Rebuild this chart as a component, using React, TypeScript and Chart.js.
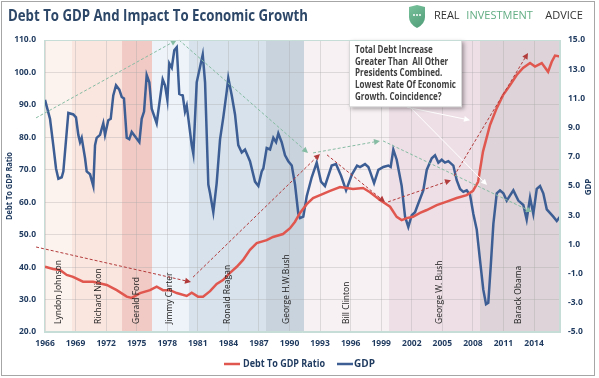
import { useEffect, useRef } from 'react';
import { Chart, registerables } from 'chart.js';

Chart.register(...registerables);

// ---------- data ----------
const xTickYears = [1966, 1969, 1972, 1975, 1978, 1981, 1984, 1987, 1990, 1993, 1996, 1999, 2002, 2005, 2008, 2011, 2014];

const debtYears = [
  1966.00, 1966.79, 1967.47, 1968.13, 1968.75, 1969.73, 1970.71, 1972.06, 1973.04, 1974.02,
  1974.51, 1975.33, 1976.31, 1976.96, 1977.58, 1978.27, 1978.93, 1979.91, 1980.40, 1981.02,
  1981.51, 1982.20, 1982.85, 1983.47, 1984.16, 1984.82, 1985.44, 1986.12, 1986.78, 1987.76,
  1988.38, 1989.36, 1990.05, 1990.54, 1991.03, 1991.69, 1992.31, 1993.00, 1993.98, 1994.96,
  1996.23, 1997.22, 1997.90, 1998.88, 1999.87, 2000.52, 2001.01, 2001.50, 2002.12, 2002.81,
  2003.47, 2004.45, 2005.43, 2006.41, 2007.39, 2008.01, 2008.51, 2008.99, 2009.68, 2010.34,
  2010.96, 2011.65, 2012.30, 2012.92, 2013.61, 2014.10, 2014.76, 2015.38, 2015.74, 2016.06,
  2016.55,
];
const debtValues = [
  40.1, 39.4, 39.1, 37.6, 37.0, 35.5, 35.5, 34.5, 32.9, 30.9,
  30.5, 32.0, 32.9, 34.0, 32.9, 32.9, 32.0, 31.1, 32.1, 30.9,
  30.9, 32.6, 34.8, 36.0, 38.2, 40.1, 42.2, 45.3, 47.4, 48.3,
  49.3, 50.2, 52.0, 54.0, 56.7, 59.4, 61.3, 62.2, 63.5, 64.7,
  64.1, 64.4, 63.1, 60.7, 58.6, 55.5, 54.5, 55.1, 55.5, 56.7,
  57.6, 59.1, 60.2, 61.3, 62.2, 63.5, 66.3, 75.6, 83.8, 89.0,
  93.0, 96.1, 99.2, 101.4, 102.9, 101.8, 102.9, 100.2, 103.3, 105.2,
  104.9,
];

const gdpYears = [
  1966.00, 1966.49, 1966.81, 1967.08, 1967.31, 1967.64, 1967.80, 1968.13, 1968.29, 1968.78,
  1969.04, 1969.27, 1969.44, 1969.60, 1969.93, 1970.09, 1970.42, 1970.74, 1970.91, 1971.07,
  1971.40, 1971.72, 1971.89, 1972.21, 1972.45, 1972.70, 1972.97, 1973.29, 1973.53, 1973.75,
  1974.02, 1974.27, 1974.51, 1974.83, 1975.26, 1975.49, 1975.72, 1975.98, 1976.24, 1976.47,
  1976.96, 1977.29, 1977.55, 1977.78, 1978.01, 1978.20, 1978.44, 1978.69, 1978.93, 1979.18,
  1979.52, 1979.74, 1979.91, 1980.40, 1980.56, 1980.89, 1981.48, 1981.71, 1982.03, 1982.20,
  1982.52, 1982.85, 1983.18, 1983.50, 1983.84, 1983.99, 1984.33, 1984.65, 1984.97, 1985.31,
  1985.63, 1986.12, 1986.61, 1986.94, 1987.27, 1987.43, 1987.76, 1988.09, 1988.41, 1988.68,
  1988.90, 1989.23, 1989.56, 1989.88, 1990.22, 1990.54, 1990.86, 1991.03, 1991.35, 1991.69,
  1992.18, 1992.67, 1993.09, 1993.48, 1994.14, 1994.56, 1995.06, 1995.55, 1996.13, 1996.63,
  1996.92, 1997.41, 1997.74, 1997.90, 1998.30, 1998.72, 1999.21, 1999.70, 1999.93, 2000.19,
  2000.52, 2001.01, 2001.34, 2001.66, 2002.00, 2002.32, 2002.64, 2003.13, 2003.47, 2003.96,
  2004.28, 2004.61, 2004.94, 2005.26, 2005.59, 2006.08, 2006.41, 2006.74, 2007.06, 2007.39,
  2007.72, 2008.04, 2008.38, 2008.70, 2009.02, 2009.29, 2009.51, 2009.75, 2010.01, 2010.34,
  2010.66, 2010.99, 2011.32, 2011.97, 2012.46, 2012.95, 2013.28, 2013.61, 2013.93, 2014.27,
  2014.59, 2014.91, 2015.25, 2015.89, 2016.23, 2016.55,
];
const gdpValues = [
  10.9, 9.6, 7.8, 6.2, 5.5, 5.6, 6.0, 8.7, 10.0, 9.9,
  9.7, 8.5, 8.0, 8.3, 6.9, 6.0, 5.8, 5.0, 7.8, 8.3,
  8.5, 9.3, 8.5, 9.5, 9.6, 11.2, 11.9, 11.6, 11.1, 11.0,
  8.3, 8.2, 8.7, 8.4, 8.0, 9.6, 10.1, 12.6, 12.1, 10.3,
  9.3, 11.0, 12.3, 11.9, 10.9, 13.4, 13.1, 14.3, 14.5, 11.3,
  11.2, 10.1, 10.5, 7.8, 7.2, 12.1, 14.0, 12.1, 5.1, 4.5,
  3.2, 5.2, 8.2, 9.7, 11.5, 12.4, 11.2, 9.9, 7.8, 7.3,
  7.5, 6.7, 5.3, 5.0, 6.0, 6.2, 7.6, 7.5, 8.3, 8.0,
  8.6, 8.0, 7.1, 6.7, 6.4, 5.1, 3.1, 2.8, 2.9, 4.3,
  5.6, 6.6, 5.3, 5.0, 6.4, 6.5, 5.7, 4.7, 5.8, 6.4,
  6.3, 6.5, 6.3, 6.0, 5.2, 6.1, 6.3, 6.4, 6.3, 7.5,
  6.8, 5.0, 2.9, 2.2, 3.0, 3.2, 3.8, 4.7, 6.1, 6.9,
  7.1, 6.6, 6.8, 6.6, 6.7, 6.4, 5.4, 4.8, 4.6, 4.7,
  4.4, 3.1, 2.0, -0.1, -2.1, -3.1, -3.0, -0.5, 2.4, 4.5,
  4.7, 4.5, 4.0, 4.7, 4.0, 3.7, 2.7, 4.2, 3.1, 4.8,
  5.0, 4.5, 3.4, 2.9, 2.6, 2.9,
];

const presidents = ['Lyndon Johnson', 'Richard Nixon', 'Gerald Ford', 'Jimmy Carter', 'Ronald Reagan', 'George H.W.Bush', 'Bill Clinton', 'George W. Bush', 'Barack Obama'];
const termStart = [1965.9, 1968.65, 1973.56, 1976.5, 1980.13, 1987.69, 1991.42, 1999.77, 2008.7];
const termEnd = [1968.65, 1973.56, 1976.5, 1980.13, 1987.69, 1991.42, 1999.77, 2008.7, 2016.55];
const presLabelYears = [1967.37, 1971.23, 1975.0, 1978.27, 1983.96, 1989.73, 1995.62, 2004.77, 2012.53];
const bandColors = ['#fdf3ee', '#fbe5df', '#f2cac5', '#eef3f9', '#d7e2ec', '#c9d3dd', '#f8f1f4', '#eedfe6', '#ddd3d8'];

// arrows in (year, left-axis value)
const arrowFrom = [[1965.12, 86.0], [1979.15, 110.0], [1992.31, 75.2], [1999.18, 78.9], [1965.12, 46.2], [1980.53, 36.9], [1993.68, 74.6], [1999.67, 60.1], [2006.15, 68.1], [2001.53, 89.3], [2001.83, 89.3]];
const arrowTo = [[1978.93, 110.0], [1991.82, 75.2], [1998.88, 78.9], [2013.8, 57.0], [1980.33, 35.4], [1992.99, 74.9], [1999.37, 60.1], [2005.85, 66.8], [2013.41, 106.0], [2007.72, 85.3], [2009.39, 65.3]];
const arrowKind = ['green', 'green', 'green', 'green', 'red', 'red', 'red', 'red', 'red', 'white', 'white'];

const noteLines = ['Total Debt Increase', 'Greater Than  All Other', 'Presidents Combined.', 'Lowest Rate Of Economic', 'Growth. Coincidence?'];
const noteBox = { x0: 1995.84, x1: 2006.93, yTop: 110, yBottom: 89.3 };

const TITLE = 'Debt To GDP And Impact To Economic Growth';
const NAVY = '#1f3a5f';
const FONT = '"Open Sans", "Liberation Sans", sans-serif';

function drawArrow(ctx: CanvasRenderingContext2D, x0: number, y0: number, x1: number, y1: number, kind: string) {
  const color = kind === 'green' ? '#86bca3' : kind === 'red' ? '#b23b3b' : '#ffffff';
  ctx.save();
  ctx.strokeStyle = color;
  ctx.fillStyle = color;
  ctx.lineWidth = 1;
  if (kind !== 'white') ctx.setLineDash([3, 2]);
  const ang = Math.atan2(y1 - y0, x1 - x0);
  const L = 6, W = 3;
  const bx = x1 - L * Math.cos(ang), by = y1 - L * Math.sin(ang);
  ctx.beginPath();
  ctx.moveTo(x0, y0);
  ctx.lineTo(bx, by);
  ctx.stroke();
  ctx.setLineDash([]);
  ctx.beginPath();
  ctx.moveTo(x1, y1);
  ctx.lineTo(bx + W * Math.sin(ang), by - W * Math.cos(ang));
  ctx.lineTo(bx - W * Math.sin(ang), by + W * Math.cos(ang));
  ctx.closePath();
  ctx.fill();
  ctx.restore();
}

const decor = {
  id: 'decor',
  beforeDraw(chart: any) {
    const { ctx, chartArea: a, scales } = chart;
    const x = scales.x;
    ctx.save();
    ctx.fillStyle = '#ffffff';
    ctx.fillRect(0, 0, chart.width, chart.height);
    for (let i = 0; i < termStart.length; i++) {
      const x0 = Math.max(a.left, x.getPixelForValue(termStart[i]));
      const x1 = Math.min(a.right, x.getPixelForValue(termEnd[i]));
      ctx.fillStyle = bandColors[i];
      ctx.fillRect(x0, a.top, x1 - x0, a.bottom - a.top);
    }
    ctx.restore();
  },
  afterDatasetsDraw(chart: any) {
    const { ctx, chartArea: a, scales } = chart;
    const x = scales.x, y = scales.y;
    ctx.save();
    // president labels
    ctx.font = `8.5px ${FONT}`;
    ctx.fillStyle = '#222222';
    ctx.textAlign = 'left';
    ctx.textBaseline = 'middle';
    for (let i = 0; i < presidents.length; i++) {
      ctx.save();
      ctx.translate(x.getPixelForValue(presLabelYears[i]), a.bottom - 8);
      ctx.rotate(-Math.PI / 2);
      ctx.fillText(presidents[i], 0, 0);
      ctx.restore();
    }
    // arrows
    for (let i = 0; i < arrowFrom.length; i++) {
      drawArrow(ctx,
        x.getPixelForValue(arrowFrom[i][0]), y.getPixelForValue(arrowFrom[i][1]),
        x.getPixelForValue(arrowTo[i][0]), y.getPixelForValue(arrowTo[i][1]), arrowKind[i]);
    }
    // note box
    const bx0 = x.getPixelForValue(noteBox.x0), bx1 = x.getPixelForValue(noteBox.x1);
    const by0 = y.getPixelForValue(noteBox.yTop), by1 = y.getPixelForValue(noteBox.yBottom);
    ctx.save();
    ctx.shadowColor = 'rgba(0,0,0,0.35)';
    ctx.shadowBlur = 4;
    ctx.shadowOffsetX = 2;
    ctx.shadowOffsetY = 2;
    ctx.fillStyle = '#ffffff';
    ctx.fillRect(bx0, by0, bx1 - bx0, by1 - by0);
    ctx.restore();
    ctx.strokeStyle = '#d9d9d9';
    ctx.lineWidth = 1;
    ctx.strokeRect(bx0 + 0.5, by0 + 0.5, bx1 - bx0 - 1, by1 - by0 - 1);
    ctx.font = `bold 10px ${FONT}`;
    ctx.fillStyle = '#404040';
    ctx.textAlign = 'left';
    ctx.textBaseline = 'middle';
    let maxW = 0;
    noteLines.forEach((l) => { maxW = Math.max(maxW, ctx.measureText(l).width); });
    const k = (bx1 - bx0 - 12) / maxW;
    const lh = (by1 - by0 - 20) / (noteLines.length - 1);
    noteLines.forEach((l, i) => {
      ctx.fillText(l, bx0 + 6, by0 + 10 + i * lh, ctx.measureText(l).width * k);
    });
    ctx.restore();
  },
  afterDraw(chart: any) {
    const { ctx, chartArea: a } = chart;
    ctx.save();
    // plot border
    ctx.strokeStyle = '#c6dcd6';
    ctx.lineWidth = 1;
    ctx.strokeRect(a.left + 0.5, a.top + 0.5, a.right - a.left - 1, a.bottom - a.top - 1);
    // title
    ctx.font = `bold 16px ${FONT}`;
    ctx.fillStyle = '#2c4768';
    ctx.textAlign = 'left';
    ctx.textBaseline = 'middle';
    ctx.fillText(TITLE, 8, 16, 300);
    // logo shield
    const g = ctx.createLinearGradient(409, 5, 425, 28);
    g.addColorStop(0, '#79c29c');
    g.addColorStop(1, '#4f9c78');
    ctx.fillStyle = g;
    ctx.beginPath();
    ctx.moveTo(409, 7);
    ctx.lineTo(417, 5);
    ctx.lineTo(425, 7);
    ctx.lineTo(425, 17);
    ctx.quadraticCurveTo(425, 24, 417, 28);
    ctx.quadraticCurveTo(409, 24, 409, 17);
    ctx.closePath();
    ctx.fill();
    ctx.fillStyle = '#ffffff';
    [414, 417, 420].forEach((dx) => { ctx.beginPath(); ctx.arc(dx, 15, 1, 0, Math.PI * 2); ctx.fill(); });
    // logo text
    ctx.font = `11px ${FONT}`;
    let tx = 434;
    const parts = [['REAL ', '#333333'], ['INVESTMENT ', '#62ad84'], ['ADVICE', '#333333']];
    let total = 0;
    parts.forEach((p) => { total += ctx.measureText(p[0]).width; });
    const kk = 154 / total;
    parts.forEach((p) => {
      const w = ctx.measureText(p[0]).width * kk;
      ctx.fillStyle = p[1];
      ctx.fillText(p[0], tx, 16, w);
      tx += w;
    });
    // axis titles
    ctx.font = `bold 8px ${FONT}`;
    ctx.fillStyle = NAVY;
    ctx.textAlign = 'center';
    ctx.save();
    ctx.translate(10, 186);
    ctx.rotate(-Math.PI / 2);
    ctx.fillText('Debt To GDP Ratio', 0, 0, 68);
    ctx.restore();
    ctx.save();
    ctx.translate(589, 187);
    ctx.rotate(-Math.PI / 2);
    ctx.fillText('GDP', 0, 0);
    ctx.restore();
    // legend
    const ly = 364;
    ctx.lineWidth = 2.5;
    ctx.strokeStyle = '#e0574f';
    ctx.beginPath(); ctx.moveTo(224, ly); ctx.lineTo(240, ly); ctx.stroke();
    ctx.strokeStyle = '#3c5e94';
    ctx.beginPath(); ctx.moveTo(337, ly); ctx.lineTo(353, ly); ctx.stroke();
    ctx.font = `bold 10px ${FONT}`;
    ctx.fillStyle = NAVY;
    ctx.textAlign = 'left';
    ctx.fillText('Debt To GDP Ratio', 243, ly, 82);
    ctx.fillText('GDP', 354, ly, 21);
    // outer frame
    ctx.strokeStyle = '#a6a6a6';
    ctx.lineWidth = 1;
    ctx.strokeRect(1.5, 1.5, 593, 374);
    ctx.restore();
  },
};

export default function App() {
  const ref = useRef<HTMLCanvasElement | null>(null);
  useEffect(() => {
    if (!ref.current) return;
    const gridColor = 'rgba(170,170,170,0.35)';
    const borderColor = '#c6dcd6';
    const tickFont = { family: FONT, size: 8.5, weight: 'bold' as const };
    const chart = new Chart(ref.current, {
      type: 'line',
      data: {
        datasets: [
          {
            label: 'Debt To GDP Ratio',
            data: debtYears.map((yr, i) => ({ x: yr, y: debtValues[i] })),
            yAxisID: 'y',
            borderColor: '#e0574f',
            borderWidth: 2.5,
            pointRadius: 0,
            tension: 0,
          },
          {
            label: 'GDP',
            data: gdpYears.map((yr, i) => ({ x: yr, y: gdpValues[i] })),
            yAxisID: 'y1',
            borderColor: '#3c5e94',
            borderWidth: 2.5,
            pointRadius: 0,
            tension: 0,
          },
        ],
      },
      options: {
        animation: false,
        responsive: false,
        devicePixelRatio: 1,
        events: [],
        layout: { padding: { left: 4, right: 0, top: 40, bottom: 0 } },
        plugins: { legend: { display: false }, title: { display: false }, tooltip: { enabled: false } },
        scales: {
          x: {
            type: 'linear',
            min: 1965.9,
            max: 2016.55,
            afterBuildTicks: (s: any) => { s.ticks = xTickYears.map((v) => ({ value: v })); },
            afterFit: (s: any) => { s.height = 46; },
            ticks: { autoSkip: false, maxRotation: 0, padding: 6, color: NAVY, font: tickFont, callback: (v: any) => String(v) },
            grid: { color: gridColor, drawTicks: false },
            border: { color: borderColor },
          },
          y: {
            position: 'left',
            min: 20,
            max: 110,
            afterFit: (s: any) => { s.width = 40; },
            ticks: { stepSize: 10, padding: 8, color: NAVY, font: tickFont, callback: (v: any) => Number(v).toFixed(1) },
            grid: { color: gridColor, drawTicks: false },
            border: { color: borderColor },
          },
          y1: {
            position: 'right',
            min: -5,
            max: 15,
            afterFit: (s: any) => { s.width = 39; },
            ticks: { stepSize: 2, padding: 8, color: NAVY, font: tickFont, callback: (v: any) => Number(v).toFixed(1) },
            grid: { drawOnChartArea: false, drawTicks: false },
            border: { color: borderColor },
          },
        },
      },
      plugins: [decor],
    });
    return () => chart.destroy();
  }, []);
  return (
    <div style={{ position: 'absolute', left: 0, top: 0, width: 599, height: 378 }}>
      <canvas ref={ref} width={599} height={378} style={{ width: 599, height: 378, display: 'block' }} />
    </div>
  );
}
